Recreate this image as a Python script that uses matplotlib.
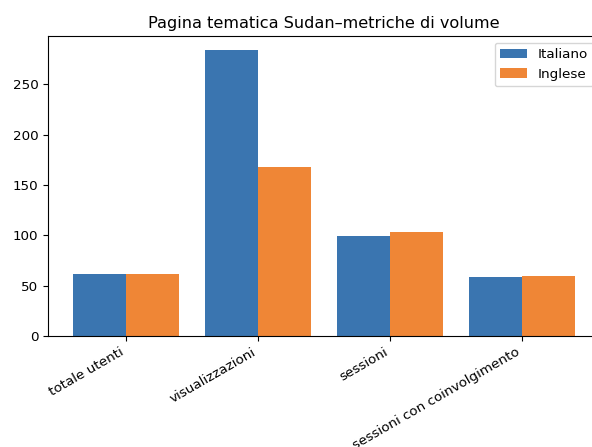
import matplotlib
matplotlib.use("Agg")
import matplotlib.pyplot as plt
import numpy as np

categories = ["totale utenti", "visualizzazioni", "sessioni", "sessioni con coinvolgimento"]
italiano = [62, 284, 99, 59]
inglese = [62, 168, 103, 60]
series_names = ["Italiano", "Inglese"]
colors = ["#3a75b0", "#ef8636"]

W, H = 592, 447
fig = plt.figure(figsize=(W / 100, H / 100), dpi=100)
ax = fig.add_axes([48 / W, (H - 336) / H, (600 - 48) / W, (336 - 36) / H])

x = np.arange(len(categories))
w = 0.4
ax.bar(x - w / 2, italiano, w, color=colors[0], label=series_names[0])
ax.bar(x + w / 2, inglese, w, color=colors[1], label=series_names[1])
ax.set_xticks(x)
ax.set_xticklabels(categories, rotation=30, ha="right", fontsize=9.7)
ax.tick_params(axis="y", labelsize=9.7)
ax.set_title("Pagina tematica Sudan–metriche di volume", fontsize=11.6)
ax.legend(loc="upper right", fontsize=9.7)

fig.savefig("out.png", dpi=100)
